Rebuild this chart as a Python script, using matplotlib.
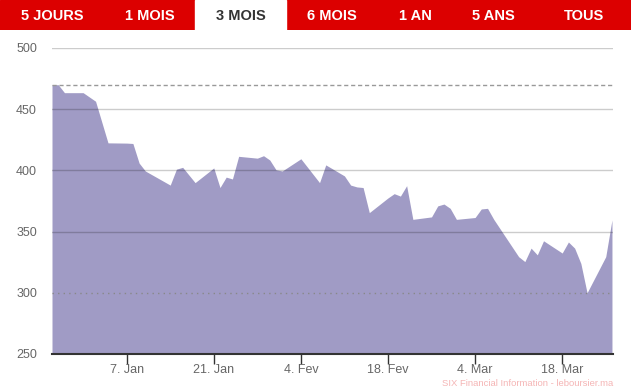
import matplotlib
matplotlib.use("Agg")
import matplotlib.pyplot as plt
import matplotlib.dates as mdates
from matplotlib.patches import Rectangle
import numpy as np
import pandas as pd

# ---- data ----
dates = [
    "2018-12-26", "2018-12-27", "2018-12-28", "2018-12-31", "2019-01-02", "2019-01-04",
    "2019-01-07", "2019-01-08", "2019-01-09", "2019-01-10", "2019-01-14", "2019-01-15",
    "2019-01-16", "2019-01-18", "2019-01-21", "2019-01-22", "2019-01-23", "2019-01-24",
    "2019-01-25", "2019-01-28", "2019-01-29", "2019-01-30", "2019-01-31", "2019-02-01",
    "2019-02-04", "2019-02-07", "2019-02-08", "2019-02-11", "2019-02-12", "2019-02-13",
    "2019-02-14", "2019-02-15", "2019-02-18", "2019-02-19", "2019-02-20", "2019-02-21",
    "2019-02-22", "2019-02-25", "2019-02-26", "2019-02-27", "2019-02-28", "2019-03-01",
    "2019-03-04", "2019-03-05", "2019-03-06", "2019-03-07", "2019-03-11", "2019-03-12",
    "2019-03-13", "2019-03-14", "2019-03-15", "2019-03-18", "2019-03-19", "2019-03-20",
    "2019-03-21", "2019-03-22", "2019-03-25", "2019-03-26",
]
prices = [
    470, 470, 463.5, 463.5, 456.5, 422.5,
    422.3, 422, 406, 399.5, 388, 401,
    402.5, 390, 402, 386, 394.5, 393,
    411.5, 410, 412, 408.5, 400.5, 399.5,
    409.5, 390, 404.5, 395.5, 388, 386.5,
    386, 365.5, 377.5, 381, 379, 387.5,
    360, 362, 371, 372.5, 369, 360,
    361.5, 368.5, 369, 360, 329.5, 325.5,
    336.5, 331, 342.5, 332.5, 341.5, 336.5,
    324, 300, 329.5, 359.5,
]
y_ticks = [250, 300, 350, 400, 450, 500]
solid_grid = [350, 400, 450, 500]
dotted_level = 300
dashed_level = 470
x_tick_dates = ["2019-01-07", "2019-01-21", "2019-02-04", "2019-02-18", "2019-03-04", "2019-03-18"]
x_tick_labels = ["7. Jan", "21. Jan", "4. Fev", "18. Fev", "4. Mar", "18. Mar"]
tabs = ["5 JOURS", "1 MOIS", "3 MOIS", "6 MOIS", "1 AN", "5 ANS", "TOUS"]
active_tab = "3 MOIS"
watermark = "SIX Financial Information - leboursier.ma"

# ---- figure ----
W, H = 631, 391
fig = plt.figure(figsize=(W / 100, H / 100), dpi=100)
fig.patch.set_facecolor("white")

FONT = ["Liberation Sans", "DejaVu Sans"]

# top tab bar
bar = fig.add_axes([0, 1 - 30 / H, 1, 30 / H])
bar.set_xlim(0, W)
bar.set_ylim(30, 0)
bar.set_facecolor("#dc0000")
bar.axis("off")
bar.add_patch(Rectangle((0, 0), W, 30, color="#dc0000", zorder=0))
tab_centers = [52, 150, 241, 332, 415, 493, 584]
for name, cx in zip(tabs, tab_centers):
    if name == active_tab:
        bar.add_patch(Rectangle((195, 0), 91, 31, color="white", zorder=1))
        col = "#333333"
    else:
        col = "white"
    bar.text(cx, 15.5, name, ha="center", va="center", color=col,
             fontsize=10.5, fontweight="bold", family=FONT, zorder=2)

# main axes
ax = fig.add_axes([52 / W, 1 - 354 / H, (613 - 52) / W, (354 - 48) / H])
x = pd.to_datetime(dates)
ax.fill_between(x, prices, 250, color="#a09bc5", linewidth=0, zorder=1)
ax.set_xlim(pd.Timestamp("2018-12-26"), pd.Timestamp("2019-03-26 04:00"))
ax.set_ylim(250, 500)

for lvl in solid_grid:
    ax.axhline(lvl, color="black", alpha=0.2, lw=1, zorder=3)
ax.axhline(dotted_level, color="#888888", lw=1, ls=(0, (1, 3)), zorder=3)
ax.axhline(dashed_level, color="#999999", lw=1, ls=(0, (3, 2)), zorder=3)

ax.set_yticks(y_ticks)
ax.set_yticklabels([str(v) for v in y_ticks], family=FONT, fontsize=9, color="#666666")
ax.tick_params(axis="y", length=0, pad=10.8)
ax.set_xticks(pd.to_datetime(x_tick_dates))
ax.set_xticklabels(x_tick_labels, family=FONT, fontsize=9, color="#666666")
ax.tick_params(axis="x", length=7, width=1, color="#333333", pad=0.5)

for s in ["top", "right", "left"]:
    ax.spines[s].set_visible(False)
ax.spines["bottom"].set_color("#333333")
ax.spines["bottom"].set_linewidth(1.5)
ax.spines["bottom"].set_zorder(4)
ax.set_facecolor("white")

fig.text(613 / W, 1 - 383.5 / H, watermark, ha="right", va="center",
         color="#f5b5b5", fontsize=6.8, family=FONT)

fig.savefig("out.png", dpi=100)
